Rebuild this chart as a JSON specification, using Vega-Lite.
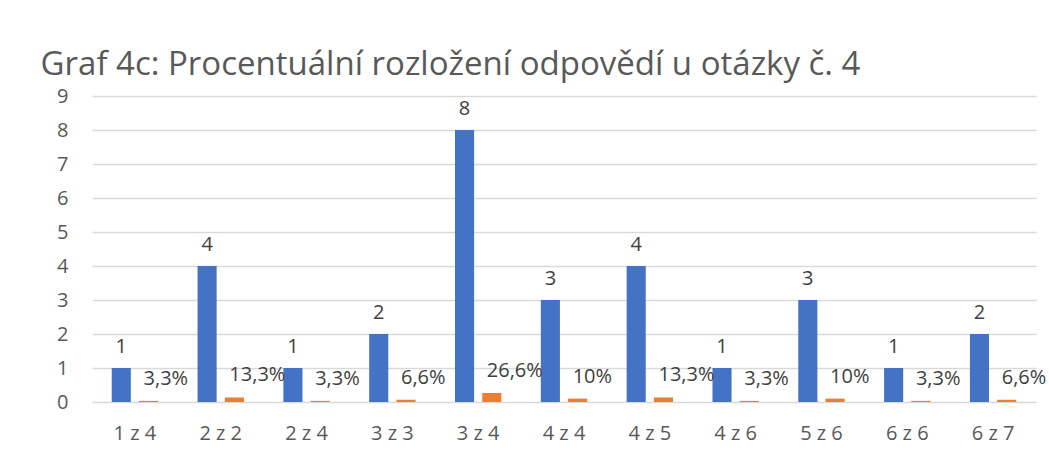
{
  "$schema": "https://vega.github.io/schema/vega-lite/v6.json",
  "width": 944,
  "height": 306,
  "autosize": {"type": "none"},
  "padding": {"left": 92, "top": 96, "right": 13, "bottom": 62},
  "background": "white",
  "title": {
    "text": "Graf 4c: Procentuální rozložení odpovědí u otázky č. 4",
    "anchor": "start",
    "dx": -16,
    "offset": 4,
    "fontSize": 33,
    "font": "Open Sans",
    "fontWeight": "normal",
    "color": "#595959"
  },
  "config": {"view": {"stroke": null}},
  "data": {
    "values": [
      {"kat": "1 z 4", "serie": "Počet", "hodnota": 1, "popisek": "1"},
      {"kat": "1 z 4", "serie": "Podíl", "hodnota": 0.033, "popisek": "3,3%"},
      {"kat": "2 z 2", "serie": "Počet", "hodnota": 4, "popisek": "4"},
      {"kat": "2 z 2", "serie": "Podíl", "hodnota": 0.133, "popisek": "13,3%"},
      {"kat": "2 z 4", "serie": "Počet", "hodnota": 1, "popisek": "1"},
      {"kat": "2 z 4", "serie": "Podíl", "hodnota": 0.033, "popisek": "3,3%"},
      {"kat": "3 z 3", "serie": "Počet", "hodnota": 2, "popisek": "2"},
      {"kat": "3 z 3", "serie": "Podíl", "hodnota": 0.066, "popisek": "6,6%"},
      {"kat": "3 z 4", "serie": "Počet", "hodnota": 8, "popisek": "8"},
      {"kat": "3 z 4", "serie": "Podíl", "hodnota": 0.266, "popisek": "26,6%"},
      {"kat": "4 z 4", "serie": "Počet", "hodnota": 3, "popisek": "3"},
      {"kat": "4 z 4", "serie": "Podíl", "hodnota": 0.1, "popisek": "10%"},
      {"kat": "4 z 5", "serie": "Počet", "hodnota": 4, "popisek": "4"},
      {"kat": "4 z 5", "serie": "Podíl", "hodnota": 0.133, "popisek": "13,3%"},
      {"kat": "4 z 6", "serie": "Počet", "hodnota": 1, "popisek": "1"},
      {"kat": "4 z 6", "serie": "Podíl", "hodnota": 0.033, "popisek": "3,3%"},
      {"kat": "5 z 6", "serie": "Počet", "hodnota": 3, "popisek": "3"},
      {"kat": "5 z 6", "serie": "Podíl", "hodnota": 0.1, "popisek": "10%"},
      {"kat": "6 z 6", "serie": "Počet", "hodnota": 1, "popisek": "1"},
      {"kat": "6 z 6", "serie": "Podíl", "hodnota": 0.033, "popisek": "3,3%"},
      {"kat": "6 z 7", "serie": "Počet", "hodnota": 2, "popisek": "2"},
      {"kat": "6 z 7", "serie": "Podíl", "hodnota": 0.066, "popisek": "6,6%"}
    ]
  },
  "encoding": {
    "x": {
      "field": "kat",
      "type": "nominal",
      "sort": null,
      "scale": {"paddingInner": 0.46, "paddingOuter": 0.23},
      "axis": {
        "title": null,
        "labelAngle": 0,
        "domain": false,
        "ticks": false,
        "labelPadding": 21,
        "labelFontSize": 20,
        "labelFont": "Open Sans",
        "labelColor": "#595959"
      }
    },
    "xOffset": {
      "field": "serie",
      "type": "nominal",
      "sort": ["Počet", "Podíl"],
      "scale": {"paddingInner": 0.3}
    },
    "y": {
      "field": "hodnota",
      "type": "quantitative",
      "scale": {"domain": [0, 9], "nice": false},
      "axis": {
        "title": null,
        "values": [0, 1, 2, 3, 4, 5, 6, 7, 8, 9],
        "domain": false,
        "ticks": false,
        "labelPadding": 24,
        "labelFontSize": 20,
        "labelFont": "Open Sans",
        "labelColor": "#595959",
        "gridColor": "#d9d9d9",
        "gridWidth": 1.5
      }
    }
  },
  "layer": [
    {
      "mark": {"type": "bar"},
      "encoding": {
        "color": {
          "field": "serie",
          "type": "nominal",
          "sort": ["Počet", "Podíl"],
          "scale": {"range": ["#4472C4", "#ED7D31"]},
          "legend": null
        }
      }
    },
    {
      "transform": [{"filter": "datum.serie === 'Počet'"}],
      "mark": {
        "type": "text",
        "baseline": "middle",
        "dy": -21,
        "fontSize": 20,
        "font": "Open Sans",
        "color": "#404040"
      },
      "encoding": {"text": {"field": "popisek"}}
    },
    {
      "transform": [{"filter": "datum.serie === 'Podíl'"}],
      "mark": {
        "type": "text",
        "align": "left",
        "baseline": "middle",
        "dx": -5,
        "dy": -22,
        "fontSize": 20,
        "font": "Open Sans",
        "color": "#404040"
      },
      "encoding": {"text": {"field": "popisek"}}
    }
  ]
}
